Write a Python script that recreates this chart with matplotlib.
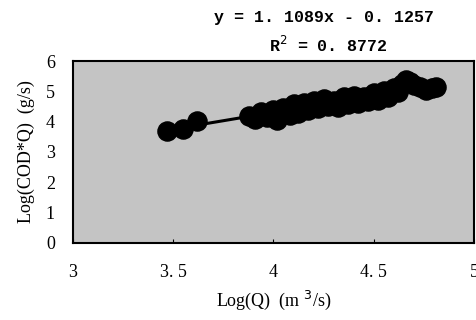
import numpy as np
import matplotlib.pyplot as plt

plt.rcParams['font.family'] = ['Liberation Serif', 'DejaVu Serif']

# 数据
log_q = [3.47, 3.55, 3.62, 3.88, 3.91, 3.94, 3.97, 4.00, 4.02, 4.05, 4.08,
         4.10, 4.12, 4.15, 4.17, 4.20, 4.22, 4.25, 4.27, 4.30, 4.32, 4.35,
         4.37, 4.40, 4.42, 4.45, 4.47, 4.50, 4.52, 4.55, 4.57, 4.60, 4.62,
         4.64, 4.66, 4.68, 4.70, 4.73, 4.76, 4.79, 4.81]
log_codq = [3.70, 3.75, 4.02, 4.20, 4.08, 4.32, 4.15, 4.38, 4.05, 4.45, 4.22,
            4.58, 4.28, 4.62, 4.38, 4.68, 4.45, 4.75, 4.52, 4.70, 4.48, 4.80,
            4.58, 4.85, 4.62, 4.82, 4.68, 4.95, 4.72, 5.02, 4.82, 5.10, 4.98,
            5.25, 5.38, 5.30, 5.22, 5.15, 5.05, 5.12, 5.15]

slope = 1.1089
intercept = -0.1257

x_ticks = [3, 3.5, 4, 4.5, 5]
x_tick_labels = ['3', '3. 5', '4', '4. 5', '5']
y_ticks = [0, 1, 2, 3, 4, 5, 6]

fig = plt.figure(figsize=(4.76, 3.2), dpi=100)
ax = fig.add_axes([0.153, 0.241, 0.843, 0.568])
ax.set_facecolor('#c4c4c4')

ax.scatter(log_q, log_codq, s=190, color='black', zorder=3)
xl = np.array([min(log_q), max(log_q)])
ax.plot(xl, slope * xl + intercept, color='black', lw=2.2, zorder=2)

ax.set_xlim(3, 5)
ax.set_ylim(0, 6)
ax.set_xticks(x_ticks)
ax.set_xticklabels(x_tick_labels)
ax.set_yticks(y_ticks)
ax.tick_params(axis='x', length=3, direction='in', pad=15, labelsize=13)
ax.tick_params(axis='y', length=0, pad=13, labelsize=13)
for s in ax.spines.values():
    s.set_linewidth(1.5)

ax.set_xlabel('Log(Q)  (m $^3$/s)', fontsize=13, labelpad=6)
ax.set_ylabel('Log(COD*Q)  (g/s)', fontsize=13, labelpad=8)

fig.text(0.68, 0.945, 'y = 1. 1089x - 0. 1257', ha='center', va='center',
         fontsize=12, family=['Liberation Mono', 'DejaVu Sans Mono'], weight='bold')
fig.text(0.69, 0.86, 'R$^2$ = 0. 8772', ha='center', va='center',
         fontsize=12, family=['Liberation Mono', 'DejaVu Sans Mono'], weight='bold')

fig.savefig('out.png', dpi=100)
plt.close()
